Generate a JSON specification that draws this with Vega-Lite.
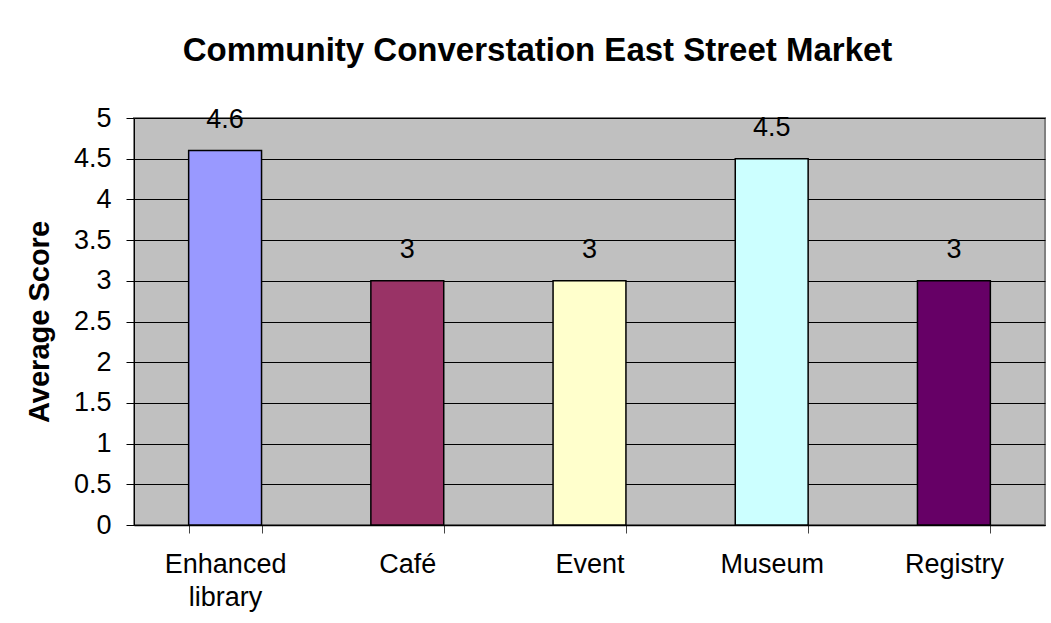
{
  "$schema": "https://vega.github.io/schema/vega-lite/v6.json",
  "autosize": {"type": "none"},
  "padding": {"left": 134, "top": 118, "right": 6, "bottom": 98},
  "width": 911,
  "height": 407,
  "background": "white",
  "title": {
    "text": "Community Converstation East Street Market",
    "font": "Liberation Sans",
    "fontSize": 33,
    "fontWeight": "bold",
    "color": "black",
    "anchor": "middle",
    "offset": 36,
    "dx": -52
  },
  "config": {
    "view": {"fill": "#C0C0C0", "stroke": "#808080", "strokeWidth": 2},
    "font": "Liberation Sans"
  },
  "data": {
    "values": [
      {"category": "Enhanced library", "score": 4.6},
      {"category": "Café", "score": 3},
      {"category": "Event", "score": 3},
      {"category": "Museum", "score": 4.5},
      {"category": "Registry", "score": 3}
    ]
  },
  "encoding": {
    "x": {
      "field": "category",
      "type": "nominal",
      "sort": null,
      "scale": {"paddingInner": 0.6, "paddingOuter": 0.3},
      "axis": {
        "title": null,
        "labelAngle": 0,
        "labelFontSize": 27,
        "labelColor": "black",
        "labelPadding": 18,
        "labelLineHeight": 33,
        "labelBaseline": "top",
        "tickBand": "extent",
        "tickSize": 8,
        "tickColor": "#444444",
        "domainColor": "black",
        "domainWidth": 1.5,
        "labelExpr": "datum.value == 'Enhanced library' ? ['Enhanced', 'library'] : datum.value"
      }
    },
    "y": {
      "field": "score",
      "type": "quantitative",
      "scale": {"domain": [0, 5], "nice": false},
      "axis": {
        "title": "Average Score",
        "titleFontSize": 29,
        "titleFontWeight": "bold",
        "titleColor": "black",
        "titlePadding": 19,
        "values": [0, 0.5, 1, 1.5, 2, 2.5, 3, 3.5, 4, 4.5, 5],
        "format": ".1~f",
        "labelFontSize": 27,
        "labelColor": "black",
        "labelPadding": 15,
        "tickSize": 8,
        "tickColor": "black",
        "domainColor": "black",
        "gridColor": "black",
        "gridOpacity": 1,
        "gridWidth": 1.2
      }
    }
  },
  "layer": [
    {
      "mark": {"type": "bar", "stroke": "black", "strokeWidth": 1.5},
      "encoding": {
        "color": {
          "field": "category",
          "type": "nominal",
          "sort": null,
          "scale": {
            "domain": ["Enhanced library", "Café", "Event", "Museum", "Registry"],
            "range": ["#9999FF", "#993366", "#FFFFCC", "#CCFFFF", "#660066"]
          },
          "legend": null
        }
      }
    },
    {
      "mark": {"type": "text", "baseline": "bottom", "dy": -17, "fontSize": 27, "color": "black"},
      "encoding": {"text": {"field": "score", "type": "quantitative"}}
    }
  ]
}
